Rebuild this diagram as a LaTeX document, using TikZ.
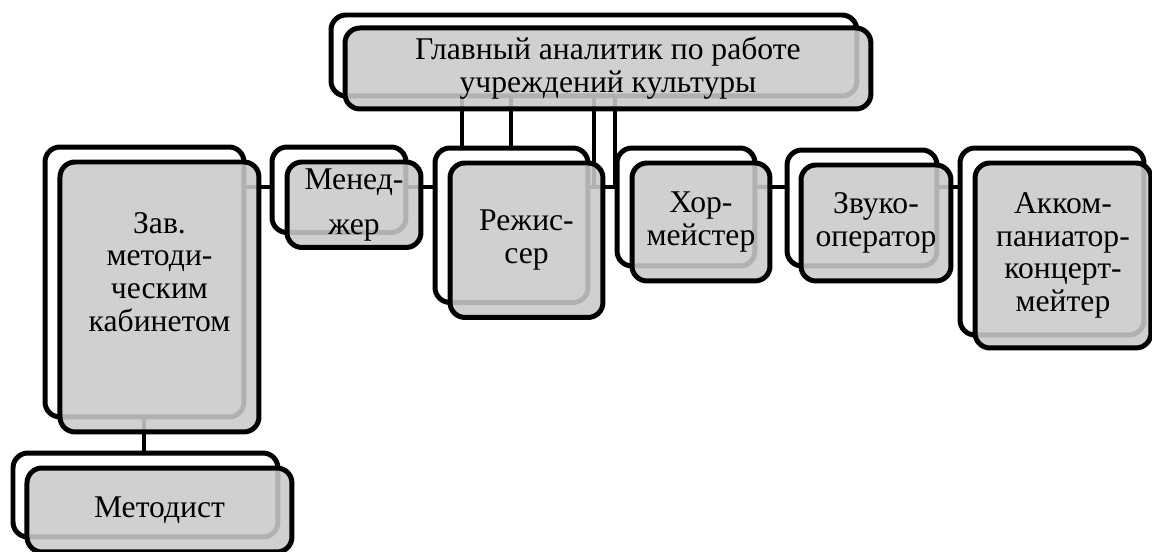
\documentclass[tikz,border=0pt]{standalone}
\usepackage{fontspec}
\setmainfont{Liberation Serif}
\usetikzlibrary{positioning, calc, backgrounds}
\definecolor{boxgray}{RGB}{202,202,202}

\begin{document}
\begin{tikzpicture}[x=0.02cm, y=-0.02cm,
	backbox/.style={draw, fill=white, line width=0.1cm, rounded corners=0.3cm, anchor=north west, inner sep=0pt, outer sep=0pt},
	frontbox/.style={draw, fill=boxgray, fill opacity=0.88, text opacity=1, line width=0.1cm, rounded corners=0.3cm, inner sep=0pt, outer sep=0pt, align=center, font=\fontsize{18}{18.7}\selectfont},
	lbl/.style={align=center, font=\fontsize{18}{18.7}\selectfont},
	conn/.style={line width=0.08cm, black}]
	\useasboundingbox (0,0) rectangle (1152,551);
	
	%----------------------------------------------------------------
	\node(chiefb) [backbox, minimum width=10.52cm, minimum height=1.62cm] at (331,15) {};
	\node(zavb) [backbox, minimum width=3.98cm, minimum height=5.4cm] at (45,147) {};
	\node(menb) [backbox, minimum width=2.68cm, minimum height=1.71cm] at (272,147) {};
	\node(rejb) [backbox, minimum width=3.06cm, minimum height=3.09cm] at (435,148) {};
	\node(horb) [backbox, minimum width=2.76cm, minimum height=2.36cm] at (617,148) {};
	\node(zvukb) [backbox, minimum width=3.0cm, minimum height=2.32cm] at (787,150) {};
	\node(akkb) [backbox, minimum width=3.68cm, minimum height=3.74cm] at (960,148) {};
	\node(metb) [backbox, minimum width=5.3cm, minimum height=1.68cm] at (13,453) {};
	
	%----------------------------------------------------------------
	\coordinate (bus) at (0,187);
	\begin{scope}[on background layer]
		\draw [conn] (chiefb.south -| 462,0) -- (rejb.north -| 462,0);
		\draw [conn] (chiefb.south -| rejb.north) -- (rejb.north);
		\draw [conn] (chiefb.south -| 594,0) -- (bus -| 594,0);
		\draw [conn] (chiefb.south -| 615,0) -- (bus -| 615,0);
		\draw [conn] (bus -| zavb.center) -- (bus -| akkb.west);
		\draw [conn] (zavb.south) -- (zavb.south |- metb.north);
	\end{scope}
	
	%----------------------------------------------------------------
	\node(chieff) [frontbox, minimum width=10.52cm, minimum height=1.62cm, below right=0.26cm and 0.28cm of chiefb.north west] {Главный аналитик по работе\\учреждений культуры};
	\node(zavf) [frontbox, minimum width=3.98cm, minimum height=5.4cm, below right=0.3cm and 0.3cm of zavb.north west] {};
	\node(zavtext) [lbl] at ([yshift=0.5cm]zavf.center) {Зав.\\методи-\\ческим\\кабинетом};
	\node(menf) [frontbox, minimum width=2.68cm, minimum height=1.71cm, below right=0.3cm and 0.3cm of menb.north west] {Менед-\\[7pt]жер};
	\node(rejf) [frontbox, minimum width=3.06cm, minimum height=3.09cm, below right=0.3cm and 0.3cm of rejb.north west] {Режис-\\сер};
	\node(horf) [frontbox, minimum width=2.76cm, minimum height=2.36cm, below right=0.3cm and 0.3cm of horb.north west] {Хор-\\мейстер};
	\node(zvukf) [frontbox, minimum width=3.0cm, minimum height=2.32cm, below right=0.3cm and 0.28cm of zvukb.north west] {Звуко-\\оператор};
	\node(akkf) [frontbox, minimum width=3.52cm, minimum height=3.7cm, below right=0.3cm and 0.3cm of akkb.north west] {Акком-\\паниатор-\\концерт-\\мейтер};
	\node(metf) [frontbox, minimum width=5.3cm, minimum height=1.68cm, below right=0.3cm and 0.28cm of metb.north west] {Методист};
	
\end{tikzpicture}
\end{document}
